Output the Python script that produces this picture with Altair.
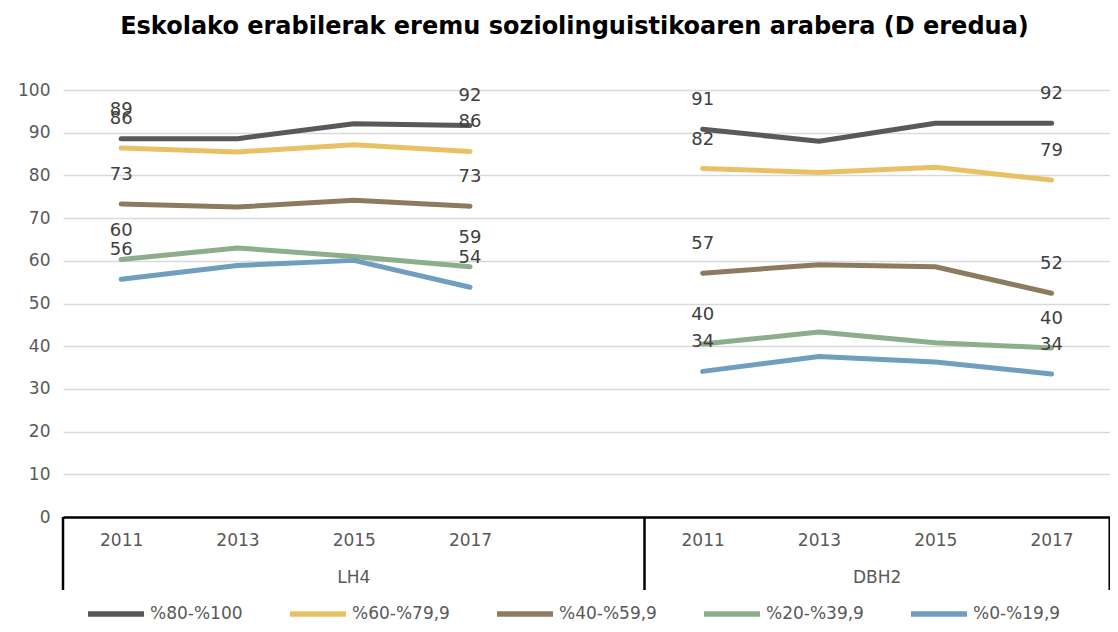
import altair as alt
import pandas as pd

series = ["%80-%100", "%60-%79,9", "%40-%59,9", "%20-%39,9", "%0-%19,9"]
colors = ["#595959", "#E8C165", "#8C7B5E", "#8DAE8B", "#6F9EBE"]
groups = ["LH4", "DBH2"]
years = ["2011", "2013", "2015", "2017"]

# values per series, per group (2011, 2013, 2015, 2017)
lh4 = {
    "%80-%100": [88.6, 88.6, 92.1, 91.7],
    "%60-%79,9": [86.4, 85.5, 87.2, 85.6],
    "%40-%59,9": [73.3, 72.6, 74.2, 72.8],
    "%20-%39,9": [60.3, 63.0, 61.0, 58.6],
    "%0-%19,9": [55.7, 58.9, 60.1, 53.8],
}
dbh2 = {
    "%80-%100": [90.8, 88.0, 92.2, 92.2],
    "%60-%79,9": [81.6, 80.7, 81.9, 78.9],
    "%40-%59,9": [57.1, 59.1, 58.6, 52.4],
    "%20-%39,9": [40.5, 43.3, 40.8, 39.6],
    "%0-%19,9": [34.1, 37.6, 36.3, 33.5],
}
# data labels shown at first and last points
lh4_labels = {
    "%80-%100": ["89", "92"], "%60-%79,9": ["86", "86"], "%40-%59,9": ["73", "73"],
    "%20-%39,9": ["60", "59"], "%0-%19,9": ["56", "54"],
}
dbh2_labels = {
    "%80-%100": ["91", "92"], "%60-%79,9": ["82", "79"], "%40-%59,9": ["57", "52"],
    "%20-%39,9": ["40", "40"], "%0-%19,9": ["34", "34"],
}

slot_start = {"LH4": 0, "DBH2": 5}
rows = []
for g, vals, labs in [("LH4", lh4, lh4_labels), ("DBH2", dbh2, dbh2_labels)]:
    for s in series:
        for i, yv in enumerate(years):
            lab = ""
            if i == 0:
                lab = labs[s][0]
            elif i == len(years) - 1:
                lab = labs[s][1]
            rows.append({
                "group": g, "series": s, "year": yv,
                "pos": slot_start[g] + i + 0.5,
                "value": vals[s][i], "label": lab,
                "key": g + s,
            })
df = pd.DataFrame(rows)

SLOT = 116.3
W = 1047
H = 427
DMAX = W / SLOT

xscale = alt.Scale(domain=[0, DMAX], nice=False, zero=False)
yscale = alt.Scale(domain=[0, 100], nice=False)
FONT = "DejaVu Sans"

year_expr = "['2011','2013','2015','2017','','2011','2013','2015','2017'][floor(datum.value)]"

lines = alt.Chart(df).mark_line(strokeWidth=5, strokeCap="round", strokeJoin="round").encode(
    x=alt.X("pos:Q", scale=xscale, title=None,
            axis=alt.Axis(values=[0.5, 1.5, 2.5, 3.5, 5.5, 6.5, 7.5, 8.5], labelExpr=year_expr,
                          ticks=False, grid=False, domain=True, domainColor="#000000",
                          domainWidth=2.5, labelPadding=15, labelFontSize=17,
                          labelColor="#595959", labelFont=FONT)),
    y=alt.Y("value:Q", scale=yscale, title=None,
            axis=alt.Axis(values=list(range(0, 101, 10)), ticks=False, domain=False,
                          grid=True, gridColor="#D9D9D9", gridWidth=1.5,
                          labelPadding=13, labelFontSize=17, labelColor="#595959",
                          labelFont=FONT)),
    color=alt.Color("series:N", scale=alt.Scale(domain=series, range=colors), sort=series,
                    legend=alt.Legend(title=None, orient="none", direction="horizontal",
                                      columns=5, legendX=22, legendY=493,
                                      symbolType="stroke", symbolSize=3136,
                                      symbolStrokeWidth=5.5, labelFontSize=17,
                                      labelColor="#595959", labelFont=FONT,
                                      labelOffset=3, columnPadding=36)),
    detail="key:N",
    order="pos:Q",
)

labels = alt.Chart(df[df["label"] != ""]).mark_text(
    fontSize=18, font=FONT, color="#404040", dy=-29, baseline="middle", align="center"
).encode(
    x=alt.X("pos:Q", scale=xscale),
    y=alt.Y("value:Q", scale=yscale),
    text="label:N",
)

sep_df = pd.DataFrame({"pos": [0, 5, 9]})
seps = alt.Chart(sep_df).mark_rule(color="#000000", strokeWidth=2.5).encode(
    x=alt.X("pos:Q", scale=xscale),
    y=alt.value(H),
    y2=alt.value(H + 73),
)

grp_df = pd.DataFrame({"group": groups, "pos": [2.5, 7.0]})
grp_text = alt.Chart(grp_df).mark_text(
    fontSize=17, font=FONT, color="#595959", baseline="middle"
).encode(
    x=alt.X("pos:Q", scale=xscale),
    y=alt.value(H + 61),
    text="group:N",
)

chart = alt.layer(lines, labels, seps, grp_text).properties(
    width=W, height=H,
    autosize=alt.AutoSizeParams(type="none"),
    padding={"left": 55, "top": 82, "right": 0, "bottom": 616 - 82 - H},
    title=alt.TitleParams(
        "Eskolako erabilerak eremu soziolinguistikoaren arabera (D eredua)",
        font=FONT, fontSize=24, fontWeight="bold", color="#000000",
        anchor="middle", dx=-12, offset=42,
    ),
).configure_view(stroke=None)

chart.save("out.html", embed_options={"renderer": "svg", "actions": False})
